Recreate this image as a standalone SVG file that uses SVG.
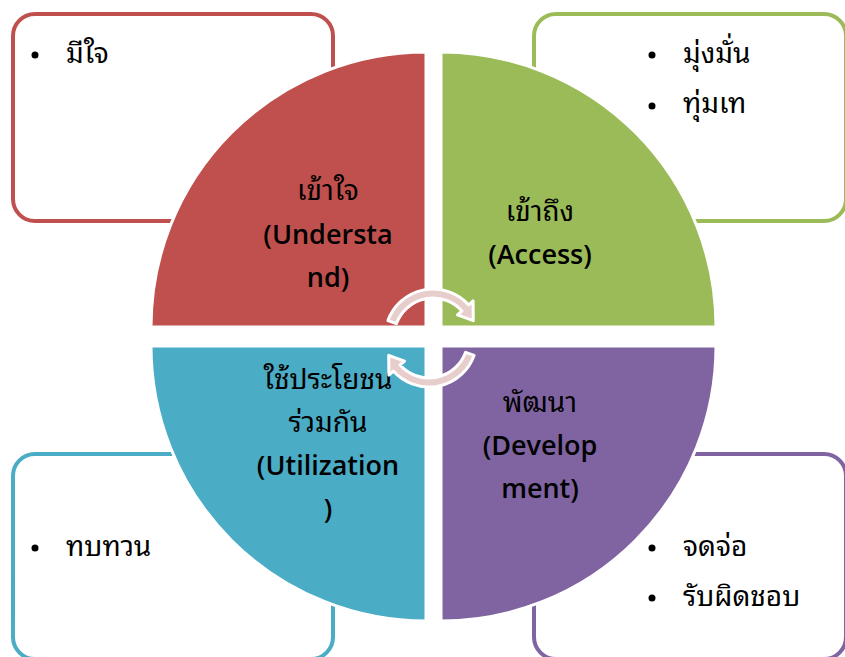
<svg xmlns="http://www.w3.org/2000/svg" width="845" height="657" viewBox="0 0 845 657">
<style>
  .box { fill: #FFFFFF; stroke-width: 4; }
  .pie { stroke: #FFFFFF; stroke-width: 3; }
  .lbl { font-family: "Open Sans", "Noto Sans", "Noto Sans Thai Looped", "Loma", "Garuda", "Noto Sans Thai", sans-serif; font-size: 28px; fill: #000000; text-anchor: middle; }
  .en { font-weight: 600; font-size: 27px; }
  .item { font-family: "Open Sans", "Noto Sans", "Noto Sans Thai Looped", "Loma", "Garuda", "Noto Sans Thai", sans-serif; font-size: 28px; fill: #000000; }
  .arr { fill: #E8CDCD; stroke: #FFFFFF; stroke-width: 3; stroke-linejoin: round; }
</style>
<rect width="845" height="657" fill="#FFFFFF"/>

<g id="box-understand">
  <rect class="box" x="13" y="14" width="320" height="207" rx="22" stroke="#C0504D"/>
  <circle cx="35" cy="55" r="3.5" fill="#000"/>
  <text class="item" x="66" y="63">มีใจ</text>
</g>
<g id="box-access">
  <rect class="box" x="534" y="14" width="312" height="207" rx="22" stroke="#9BBB59"/>
  <circle cx="652" cy="55" r="3.5" fill="#000"/>
  <text class="item" x="683" y="63">มุ่งมั่น</text>
  <circle cx="652" cy="106" r="3.5" fill="#000"/>
  <text class="item" x="683" y="113">ทุ่มเท</text>
</g>
<g id="box-utilization">
  <rect class="box" x="13" y="454" width="320" height="205" rx="22" stroke="#4BACC6"/>
  <circle cx="35" cy="548" r="3.5" fill="#000"/>
  <text class="item" x="66" y="556">ทบทวน</text>
</g>
<g id="box-development">
  <rect class="box" x="534" y="454" width="312" height="205" rx="22" stroke="#8064A2"/>
  <circle cx="652" cy="548" r="3.5" fill="#000"/>
  <text class="item" x="683" y="556">จดจ่อ</text>
  <circle cx="652" cy="598" r="3.5" fill="#000"/>
  <text class="item" x="683" y="606">รับผิดชอบ</text>
</g>

<g id="pie-understand">
  <path class="pie" d="M426,327 L151,327 A275,275 0 0 1 426,52 Z" fill="#C0504D"/>
  <text class="lbl" x="328" y="200">เข้าใจ</text>
  <text class="lbl en" x="328" y="244">(Understa</text>
  <text class="lbl en" x="328" y="287">nd)</text>
</g>
<g id="pie-access">
  <path class="pie" d="M441,327 L441,52 A275,275 0 0 1 716,327 Z" fill="#9BBB59"/>
  <text class="lbl" x="540" y="221">เข้าถึง</text>
  <text class="lbl en" x="540" y="264">(Access)</text>
</g>
<g id="pie-utilization">
  <path class="pie" d="M426,346 L426,621 A275,275 0 0 1 151,346 Z" fill="#4BACC6"/>
  <text class="lbl" x="328" y="389">ใช้ประโยชน</text>
  <text class="lbl" x="328" y="432">ร่วมกัน</text>
  <text class="lbl en" x="328" y="475">(Utilization</text>
  <text class="lbl en" x="328" y="518">)</text>
</g>
<g id="pie-development">
  <path class="pie" d="M441,346 L716,346 A275,275 0 0 1 441,621 Z" fill="#8064A2"/>
  <text class="lbl" x="540" y="412">พัฒนา</text>
  <text class="lbl en" x="540" y="455">(Develop</text>
  <text class="lbl en" x="540" y="498">ment)</text>
</g>

<g id="connectors">
  <path class="arr" d="M387.9,320.6 A48,48 0 0 1 468.7,304.9 L473.1,300.9 L473.3,320.7 L457.5,314.9 L462.0,310.9 A39,39 0 0 0 396.4,323.7 Z"/>
  <path class="arr" transform="rotate(180 431 338)" d="M387.9,320.6 A48,48 0 0 1 468.7,304.9 L473.1,300.9 L473.3,320.7 L457.5,314.9 L462.0,310.9 A39,39 0 0 0 396.4,323.7 Z"/>
</g>
</svg>
